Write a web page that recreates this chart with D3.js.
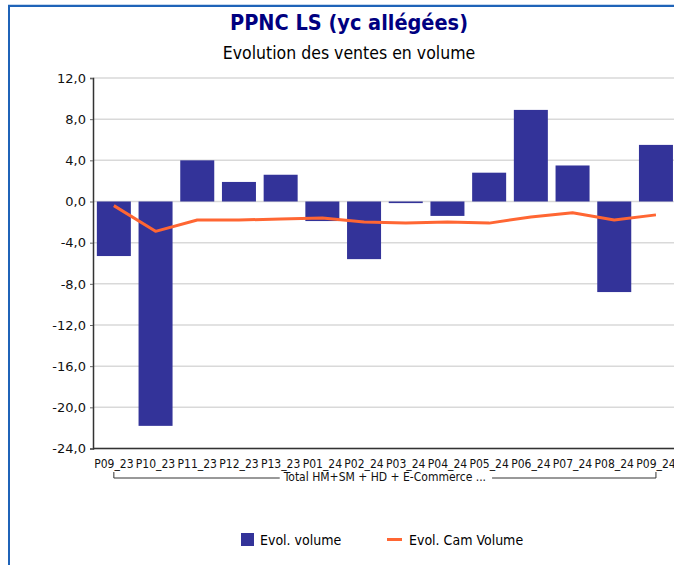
<!DOCTYPE html>
<html>
<head>
<meta charset="utf-8">
<script src="https://cdn.jsdelivr.net/npm/d3@7/dist/d3.min.js"></script>
<style>
  html, body { margin: 0; padding: 0; overflow: hidden; background: #fff; }
  text { font-family: "DejaVu Sans Condensed", "DejaVu Sans", sans-serif; }
</style>
</head>
<body>
<div id="chart"></div>
<script>
"use strict";

// == data ==
var periods = ["P09_23", "P10_23", "P11_23", "P12_23", "P13_23", "P01_24", "P02_24",
               "P03_24", "P04_24", "P05_24", "P06_24", "P07_24", "P08_24", "P09_24"];
var evolVolume = [-5.3, -21.8, 4.0, 1.9, 2.6, -1.9, -5.6, -0.1, -1.4, 2.8, 8.9, 3.5, -8.8, 5.5];
var evolCamVolume = [-0.4, -2.9, -1.8, -1.8, -1.7, -1.6, -2.0, -2.1, -2.0, -2.1, -1.5, -1.1, -1.8, -1.3];
var yTicks = [12, 8, 4, 0, -4, -8, -12, -16, -20, -24];
var groupLabel = "Total HM+SM + HD + E-Commerce ...";
var seriesNames = ["Evol. volume", "Evol. Cam Volume"];

var barColor = "#333399";
var lineColor = "#ff6633";

// == boilerplate ==
var W = 760, H = 565;
var margin = { top: 78, left: 93 };
var plotW = 15 * 41.7, plotH = 370.5;

var svg = d3.select("#chart").append("svg")
  .attr("width", W).attr("height", H)
  .style("display", "block");

// frame
svg.append("line").attr("x1", 8).attr("x2", W).attr("y1", 4.5).attr("y2", 4.5)
  .attr("stroke", "#c6d8ee").attr("stroke-width", 1);
svg.append("rect").attr("x", 9).attr("y", 6).attr("width", W).attr("height", H + 10)
  .attr("fill", "none").attr("stroke", "#1f63b8").attr("stroke-width", 2);

// titles
svg.append("text").attr("x", 349).attr("y", 30).attr("text-anchor", "middle")
  .style("font-size", "21.5px").style("font-weight", "bold").attr("fill", "#000080")
  .text("PPNC LS (yc allégées)");
svg.append("text").attr("x", 349).attr("y", 59).attr("text-anchor", "middle")
  .style("font-size", "17.5px").attr("fill", "#000")
  .text("Evolution des ventes en volume");

var g = svg.append("g").attr("transform", "translate(" + margin.left + "," + margin.top + ")");

var x = d3.scaleBand()
  .domain(periods.concat(["_pad"]))
  .range([0, plotW])
  .paddingInner(1 - 34 / 41.7)
  .paddingOuter((1 - 34 / 41.7) / 2);

var y = d3.scaleLinear().domain([-24, 12]).range([plotH, 0]);

// gridlines
g.selectAll(".grid").data(yTicks).enter().append("line")
  .attr("x1", 0).attr("x2", W)
  .attr("y1", function (d) { return y(d); })
  .attr("y2", function (d) { return y(d); })
  .attr("stroke", "#d9d9d9").attr("stroke-width", 1.5);

// bars
g.selectAll(".bar").data(evolVolume).enter().append("rect")
  .attr("x", function (d, i) { return x(periods[i]); })
  .attr("width", x.bandwidth())
  .attr("y", function (d) { return y(Math.max(0, d)); })
  .attr("height", function (d) { return Math.max(1.6, Math.abs(y(d) - y(0))); })
  .attr("fill", barColor);

// line
var line = d3.line()
  .x(function (d, i) { return x(periods[i]) + x.bandwidth() / 2; })
  .y(function (d) { return y(d); });
g.append("path").datum(evolCamVolume)
  .attr("d", line).attr("fill", "none")
  .attr("stroke", lineColor).attr("stroke-width", 3).attr("stroke-linejoin", "round");

// y axis
var yAxis = d3.axisLeft(y).tickValues(yTicks).tickSize(3).tickPadding(4)
  .tickFormat(function (d) { return d3.format(".1f")(d).replace(".", ",").replace("−", "-"); });
var ya = g.append("g").call(yAxis);
ya.select(".domain").attr("stroke", "#333").attr("stroke-width", 1.5);
ya.selectAll(".tick line").attr("stroke", "#666");
ya.selectAll("text").style("font-size", "13px").attr("fill", "#111")
  .style("font-family", "'DejaVu Sans', sans-serif");

// x axis line
g.append("line").attr("x1", 0).attr("x2", W).attr("y1", plotH).attr("y2", plotH)
  .attr("stroke", "#333").attr("stroke-width", 1.5);

// category labels
g.selectAll(".cat").data(periods).enter().append("text")
  .attr("x", function (d) { return x(d) + x.bandwidth() / 2; })
  .attr("y", plotH + 19)
  .attr("text-anchor", "middle")
  .style("font-size", "12px").attr("fill", "#111")
  .text(function (d) { return d; });

// group bracket
var bx0 = x(periods[0]) + x.bandwidth() / 2;
var bx1 = x(periods[periods.length - 1]) + x.bandwidth() / 2;
var bmid = (bx0 + bx1) / 2;
var by = plotH + 29.5;
var gl = g.append("text").attr("x", bmid).attr("y", plotH + 32)
  .attr("text-anchor", "middle").style("font-size", "12px").attr("fill", "#111")
  .text(groupLabel);
var tw = gl.node().getComputedTextLength();
g.append("path")
  .attr("d", "M" + bx0 + "," + (by - 6) + "V" + by + "H" + (bmid - tw / 2 - 4) +
             "M" + (bmid + tw / 2 + 6) + "," + by + "H" + bx1 + "V" + (by - 6))
  .attr("fill", "none").attr("stroke", "#333").attr("stroke-width", 1);

// legend
var lg = svg.append("g").attr("transform", "translate(241,533)");
lg.append("rect").attr("width", 13).attr("height", 13).attr("fill", barColor);
lg.append("text").attr("x", 19).attr("y", 12).style("font-size", "14px").text(seriesNames[0]);
lg.append("line").attr("x1", 146).attr("x2", 161).attr("y1", 6.5).attr("y2", 6.5)
  .attr("stroke", lineColor).attr("stroke-width", 3);
lg.append("text").attr("x", 168).attr("y", 12).style("font-size", "14px").text(seriesNames[1]);
</script>
</body>
</html>
